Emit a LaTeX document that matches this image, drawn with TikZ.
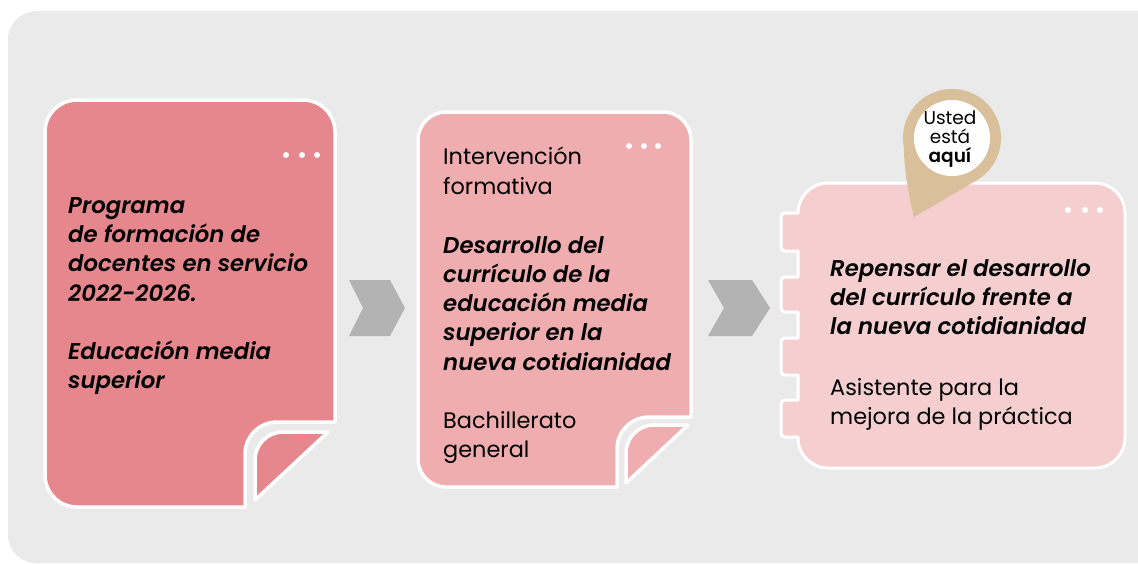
\documentclass[tikz,border=0pt]{standalone}
\usepackage{fontspec}
\setmainfont{Poppins}[ItalicFont={Poppins Italic},BoldFont={Poppins SemiBold},BoldItalicFont={Poppins SemiBold Italic}]
\definecolor{panelgray}{HTML}{EAEAEA}
\definecolor{cardone}{HTML}{E5878C}
\definecolor{cardtwo}{HTML}{EFADAF}
\definecolor{cardthree}{HTML}{F5CFCF}
\definecolor{chevgray}{HTML}{B3B3B3}
\definecolor{pintan}{HTML}{D9C09A}
\tikzset{
  cardline/.style={draw=white,line width=3.5pt,line join=round},
  dotmark/.style={fill=white,draw=none},
  cardtext/.style={anchor=north west,align=left,inner sep=0pt,font=\fontsize{22.4}{29.3}\selectfont},
  cardtitle/.style={cardtext,font=\fontsize{22.8}{29.3}\selectfont\bfseries\itshape},
  pintext/.style={align=center,inner sep=0pt,font=\fontsize{18.5}{19}\selectfont}
}
\begin{document}
\begin{tikzpicture}[x=1pt,y=-1pt]
    \useasboundingbox (0,0) rectangle (1138,563);
    % Panel
    \fill[panelgray] (8,40) arc (180:270:29) -- (1138,11) -- (1138,563) -- (36,563) arc (90:180:28) -- cycle;
    % First card
    \draw[cardline,fill=cardone] (45,132) arc (180:270:32) -- (303,100) arc (270:360:32) -- (335,422) -- (277,422) arc (270:180:32) -- (245,507) -- (77,507) arc (90:180:32) -- cycle;
    \draw[cardline,fill=cardone] (255,500) -- (255,460) arc (180:270:28) -- (328,432) -- cycle;
    \foreach \dotx in {286,302,317} \fill[dotmark] (\dotx,155) circle (3);
    % Second card
    \draw[cardline,fill=cardtwo] (418,140) arc (180:270:28) -- (663,112) arc (270:360:28) -- (691,417) -- (649,417) arc (270:180:32) -- (617,487) -- (446,487) arc (90:180:28) -- cycle;
    \draw[cardline,fill=cardtwo] (626,483) -- (626,453) arc (180:270:28) -- (688,425) -- cycle;
    \foreach \dotx in {629,644,658} \fill[dotmark] (\dotx,146) circle (3);
    % Third card
    \draw[cardline,line width=3pt,fill=cardthree] (798,213) arc (180:270:30) -- (1095,183) arc (270:360:30) -- (1125,438) arc (0:90:30) -- (828,468) arc (90:180:30)
      -- (798,437) -- (785,437) arc (90:180:4) -- (781,404) arc (180:270:4) -- (798,400) -- (798,375)
      -- (785,375) arc (90:180:4) -- (781,342) arc (180:270:4) -- (798,338) -- (798,312)
      -- (785,312) arc (90:180:4) -- (781,281) arc (180:270:4) -- (798,277) -- (798,251)
      -- (785,251) arc (90:180:4) -- (781,217) arc (180:270:4) -- cycle;
    \foreach \dotx in {1068,1085,1100} \fill[dotmark] (\dotx,210) circle (3);
    % Chevrons
    \fill[chevgray] (349,280) -- (390,280) -- (405,308) -- (390,336) -- (349,336) -- (363,308) -- cycle;
    \fill[chevgray] (708,280) -- (752,280) -- (770,308) -- (752,336) -- (708,336) -- (724,308) -- cycle;
    % Pin
    \fill[pintan] (914,217) -- (976.5,180.4) arc (60:-190:49) .. controls (904,165) and (908,195) .. (914,217) -- cycle;
    \fill[white] (952,138) circle (38);
    \node[pintext] (pinlabel) at (950,139.5) {Usted\\está\\\textbf{aquí}};
    % Labels
    \node[cardtitle] (firsttitle) at (68,197) {Programa\\de formación de\\docentes en servicio\\2022-2026.\\[29.3pt]Educación media\\superior};
    \node[cardtext] (secondtop) at (443,147) {Intervención\\formativa};
    \node[cardtitle] (secondtitle) at (443,236) {Desarrollo del\\currículo de la\\educación media\\superior en la\\nueva cotidianidad};
    \node[cardtext] (secondend) at (443,411) {Bachillerato\\general};
    \node[cardtitle] (thirdtitle) at (830,259) {Repensar el desarrollo\\del currículo frente a\\la nueva cotidianidad};
    \node[cardtext] (thirdend) at (830,378) {Asistente para la\\mejora de la práctica};
\end{tikzpicture}
\end{document}
